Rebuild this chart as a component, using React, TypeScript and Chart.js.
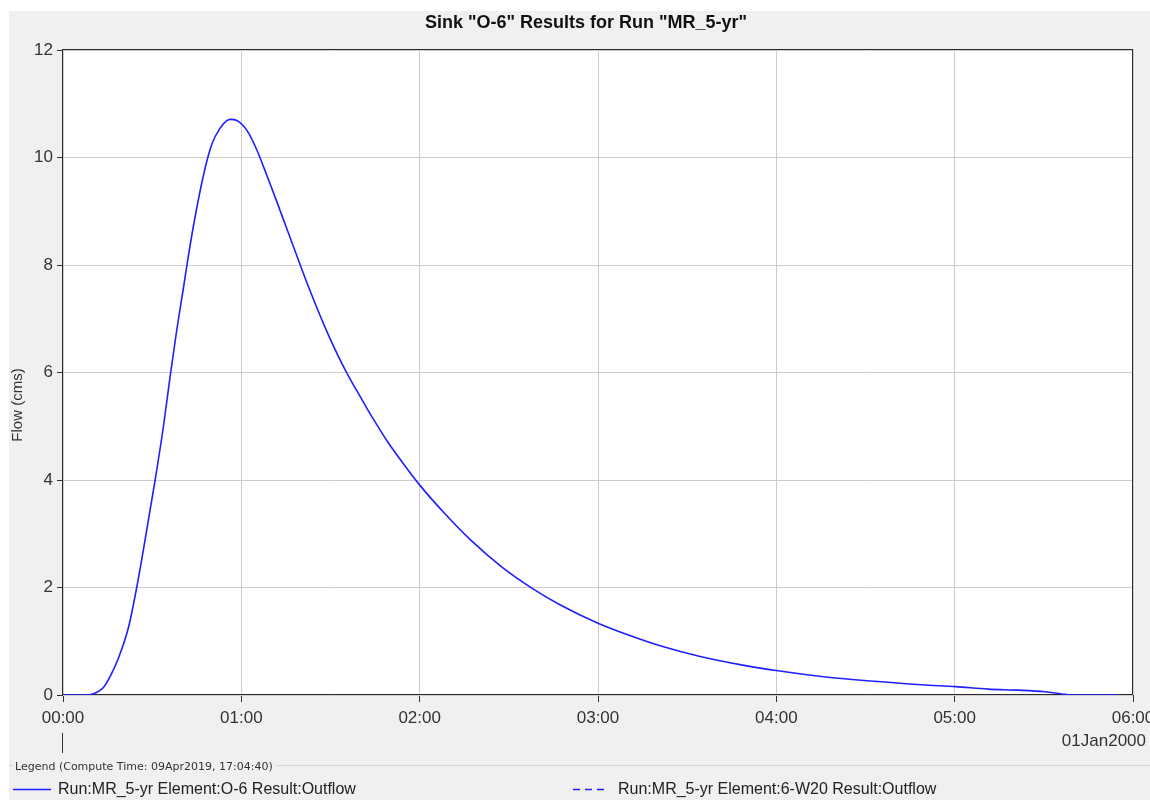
import React, { useEffect, useRef } from "react";
import { Chart, registerables } from "chart.js";

Chart.register(...registerables);

// ---- data (time in minutes after 00:00, outflow in cms) ----
const timesMin = [
  0, 8, 10, 12, 13.6, 16, 18.6, 22, 24.8, 27.6, 31, 33.8, 36.1, 38.3, 40.6, 41.7,
  43.9, 47.3, 50.1, 52.9, 55, 56.3, 58.5, 60.5, 62.5, 65.3, 68.7, 72, 75.4, 79.3,
  82.7, 87.7, 92.2, 95.6, 100, 102.4, 105, 109.1, 115.9, 120.1, 128.2, 137.2,
  147.9, 158, 167.5, 180.2, 190, 201.2, 214.7, 228.2, 240.6, 257.4, 274.3, 288.9,
  300.4, 311.3, 321.5, 330.4, 336, 339.4, 354.5,
];
const outflowO6 = [
  0, 0, 0.02, 0.07, 0.14, 0.36, 0.68, 1.25, 2.0, 2.88, 4.0, 5.0, 5.95, 6.8, 7.6, 8.0,
  8.73, 9.68, 10.25, 10.55, 10.68, 10.71, 10.69, 10.6, 10.45, 10.13, 9.65, 9.17, 8.66, 8.08,
  7.58, 6.9, 6.35, 5.98, 5.55, 5.32, 5.08, 4.72, 4.2, 3.9, 3.39, 2.88,
  2.37, 1.98, 1.67, 1.33, 1.12, 0.91, 0.71, 0.56, 0.45, 0.33, 0.25, 0.19,
  0.155, 0.11, 0.09, 0.06, 0.02, 0, 0,
];
const outflow6W20: number[] = [];

const xTickLabels = ["00:00", "01:00", "02:00", "03:00", "04:00", "05:00", "06:00"];
const yTickValues = [0, 2, 4, 6, 8, 10, 12];

const chartTitle = 'Sink "O-6" Results for Run "MR_5-yr"';
const yAxisTitle = "Flow (cms)";
const dateLabel = "01Jan2000";
const legendHeader = "Legend (Compute Time: 09Apr2019, 17:04:40)";
const seriesNames = [
  "Run:MR_5-yr Element:O-6 Result:Outflow",
  "Run:MR_5-yr Element:6-W20 Result:Outflow",
];

const LINE_BLUE = "rgb(31,31,255)";
const FONT = '"Liberation Sans", Arial, sans-serif';

const decorPlugin = {
  id: "decor",
  beforeDraw(chart: any) {
    const { ctx, width, height } = chart;
    const { left, top, right, bottom } = chart.chartArea;
    ctx.save();
    ctx.fillStyle = "#ffffff";
    ctx.fillRect(0, 0, width, height);
    ctx.fillStyle = "#f0f0f0";
    ctx.fillRect(9, 11, width - 9, height - 11);
    ctx.fillStyle = "#ffffff";
    ctx.fillRect(left, top, right - left, bottom - top);
    ctx.restore();
  },
  beforeDatasetsDraw(chart: any) {
    const { ctx } = chart;
    const { left, top, right, bottom } = chart.chartArea;
    ctx.save();
    ctx.strokeStyle = "#2b2b2b";
    ctx.lineWidth = 1;
    ctx.strokeRect(Math.round(left) - 0.5, Math.round(top) - 0.5, Math.round(right - left), Math.round(bottom - top));
    ctx.restore();
  },
  afterDraw(chart: any) {
    const { ctx, width } = chart;
    const { left } = chart.chartArea;
    ctx.save();
    // title
    ctx.fillStyle = "#111";
    ctx.font = `bold 18px ${FONT}`;
    ctx.textAlign = "center";
    ctx.textBaseline = "middle";
    ctx.fillText(chartTitle, 586, 23);

    // y axis title
    ctx.save();
    ctx.translate(18, 405);
    ctx.rotate(-Math.PI / 2);
    ctx.font = `15px ${FONT}`;
    ctx.fillStyle = "#333";
    ctx.textAlign = "center";
    ctx.textBaseline = "middle";
    ctx.fillText(yAxisTitle, 0, 0);
    ctx.restore();

    // date label
    ctx.font = `17px ${FONT}`;
    ctx.fillStyle = "#333";
    ctx.textAlign = "right";
    ctx.textBaseline = "middle";
    ctx.fillText(dateLabel, 1146, 741);

    // day marker line
    ctx.strokeStyle = "#333";
    ctx.lineWidth = 1;
    ctx.beginPath();
    ctx.moveTo(Math.round(left) - 0.5, 733);
    ctx.lineTo(Math.round(left) - 0.5, 753);
    ctx.stroke();

    // legend header + separator
    ctx.font = `11px "DejaVu Sans", sans-serif`;
    ctx.fillStyle = "#333";
    ctx.textAlign = "left";
    ctx.textBaseline = "middle";
    ctx.fillText(legendHeader, 15, 767);
    const hw = ctx.measureText(legendHeader).width;
    ctx.strokeStyle = "#d8d8d8";
    ctx.beginPath();
    ctx.moveTo(9, 765.5);
    ctx.lineTo(13, 765.5);
    ctx.moveTo(15 + hw + 3, 765.5);
    ctx.lineTo(width, 765.5);
    ctx.stroke();

    // legend entries
    ctx.lineWidth = 1.5;
    ctx.strokeStyle = LINE_BLUE;
    ctx.beginPath();
    ctx.moveTo(13, 789.5);
    ctx.lineTo(51, 789.5);
    ctx.stroke();
    ctx.strokeStyle = LINE_BLUE;
    ctx.setLineDash([7, 5]);
    ctx.beginPath();
    ctx.moveTo(573, 789.5);
    ctx.lineTo(607, 789.5);
    ctx.stroke();
    ctx.setLineDash([]);
    ctx.font = `16px ${FONT}`;
    ctx.fillStyle = "#222";
    ctx.textBaseline = "middle";
    ctx.fillText(seriesNames[0], 58, 790);
    ctx.fillText(seriesNames[1], 618, 790);
    ctx.restore();
  },
};

function fmtTime(v: number) {
  const idx = Math.round(v / 60);
  return xTickLabels[idx] ?? "";
}

export default function App() {
  const ref = useRef<HTMLCanvasElement | null>(null);
  useEffect(() => {
    if (!ref.current) return;
    const chart = new Chart(ref.current, {
      type: "line",
      data: {
        datasets: [
          {
            label: seriesNames[0],
            data: timesMin.map((t, i) => ({ x: t, y: outflowO6[i] })),
            borderColor: LINE_BLUE,
            borderWidth: 1.6,
            pointRadius: 0,
            cubicInterpolationMode: "monotone",
            fill: false,
          },
          {
            label: seriesNames[1],
            data: outflow6W20.map((v, i) => ({ x: timesMin[i], y: v })),
            borderColor: LINE_BLUE,
            borderWidth: 1,
            borderDash: [7, 5],
            pointRadius: 0,
            fill: false,
          },
        ],
      },
      plugins: [decorPlugin],
      options: {
        animation: false,
        responsive: false,
        devicePixelRatio: 1,
        layout: { autoPadding: false, padding: { left: 0, top: 50, right: 17, bottom: 55 } },
        plugins: { legend: { display: false }, title: { display: false }, tooltip: { enabled: false } },
        scales: {
          x: {
            type: "linear",
            min: 0,
            max: 360,
            afterFit: (s: any) => {
              s.height = 50;
              s.paddingLeft = 0;
              s.paddingRight = 0;
            },
            afterBuildTicks: (s: any) => {
              s.ticks = xTickLabels.map((_, i) => ({ value: i * 60 }));
            },
            ticks: {
              callback: (v: any) => fmtTime(Number(v)),
              maxRotation: 0,
              autoSkip: false,
              padding: 6,
              color: "#333",
              font: { family: FONT, size: 17 },
            },
            grid: { color: "#cdcdcd", lineWidth: 1, tickColor: "#333", tickLength: 7 },
            border: { display: false },
          },
          y: {
            min: 0,
            max: 12,
            afterFit: (s: any) => {
              s.width = 63;
              s.paddingTop = 0;
              s.paddingBottom = 0;
            },
            afterBuildTicks: (s: any) => {
              s.ticks = yTickValues.map((v) => ({ value: v }));
            },
            ticks: {
              padding: 4,
              color: "#333",
              font: { family: FONT, size: 17 },
            },
            grid: { color: "#cdcdcd", lineWidth: 1, tickColor: "#333", tickLength: 6 },
            border: { display: false },
          },
        },
      },
    } as any);
    return () => chart.destroy();
  }, []);
  return (
    <div style={{ position: "absolute", left: 0, top: 0, width: 1150, height: 800 }}>
      <canvas ref={ref} width={1150} height={800} style={{ display: "block", width: 1150, height: 800 }} />
    </div>
  );
}
